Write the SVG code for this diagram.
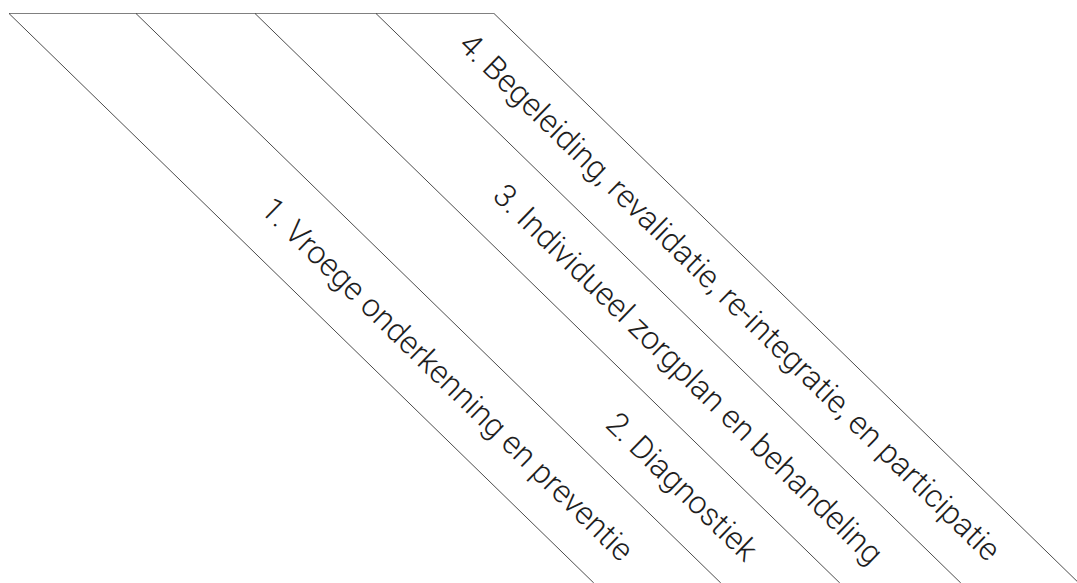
<svg xmlns="http://www.w3.org/2000/svg" width="1077" height="583" viewBox="0 0 1077 583">
  <style>
    .band { stroke: #1e1e1e; stroke-width: 0.8; fill: none; }
    .top { stroke: #808080; stroke-width: 1.2; fill: none; }
    .lbl { font-family: Roboto, "Liberation Sans", Arial, sans-serif; font-size: 31.8px; fill: #1e1e1e; font-weight: 300; }
  </style>
  <rect width="1077" height="583" fill="#ffffff"/>
  <g id="connectors">
    <line class="top" x1="9" y1="13.5" x2="494" y2="13.5"/>
    <line class="band" x1="9" y1="13.5" x2="593.8" y2="583"/>
    <line class="band" x1="136" y1="13.5" x2="720.8" y2="583"/>
    <line class="band" x1="255" y1="13.5" x2="839.8" y2="583"/>
    <line class="band" x1="376" y1="13.5" x2="960.8" y2="583"/>
    <line class="band" x1="494" y1="13.5" x2="1078.8" y2="583"/>
  </g>
  <g id="phase1">
    <text class="lbl" transform="translate(259.1,211.1) rotate(44.23)">1. Vroege onderkenning en preventie</text>
  </g>
  <g id="phase2">
    <text class="lbl" transform="translate(603.9,425.9) rotate(44.23)">2. Diagnostiek</text>
  </g>
  <g id="phase3">
    <text class="lbl" transform="translate(491.3,197.6) rotate(44.23)">3. Individueel zorgplan en behandeling</text>
  </g>
  <g id="phase4">
    <text class="lbl" transform="translate(457.2,46.6) rotate(44.23)">4. Begeleiding, revalidatie, re-integratie, en participatie</text>
  </g>
</svg>
